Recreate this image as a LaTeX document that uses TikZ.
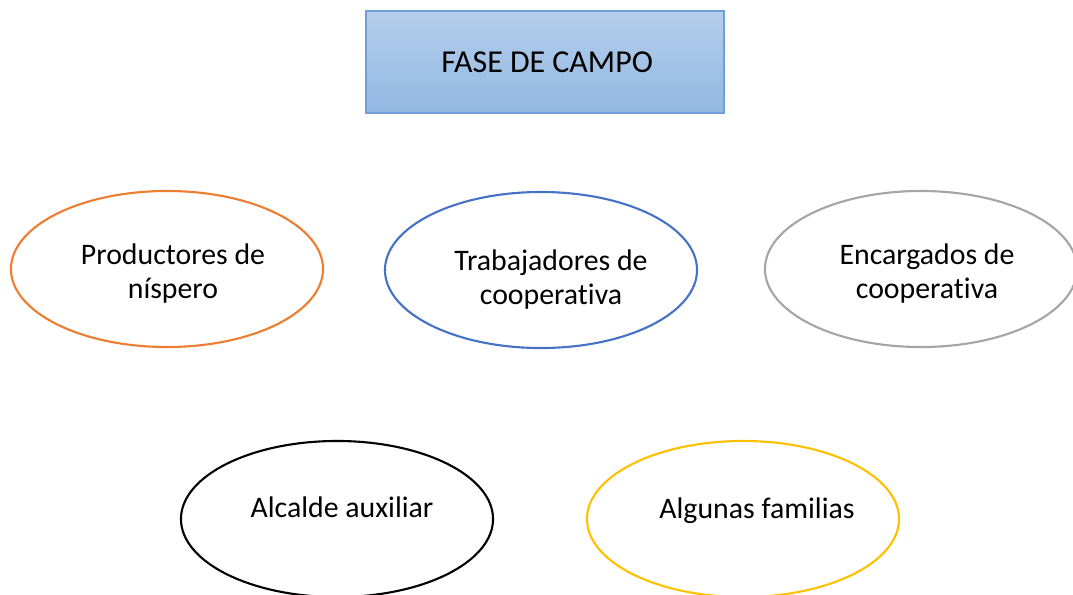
\documentclass[tikz,border=0pt]{standalone}
\usepackage{fontspec}
\setmainfont{Carlito}[Ligatures=NoCommon]
\usetikzlibrary{
    shapes.geometric,  % ellipse nodes
    positioning,  % relative placement
}
\definecolor{boxline}{RGB}{110,160,215}
\definecolor{boxtop}{RGB}{181,206,235}
\definecolor{boxbot}{RGB}{146,184,227}
\definecolor{ornge}{RGB}{237,125,49}
\definecolor{blu}{RGB}{68,114,196}
\definecolor{gry}{RGB}{165,165,165}
\definecolor{yllw}{RGB}{255,192,0}
\tikzset{
    titlebox/.style={draw=boxline, line width=1pt, top color=boxtop,
        bottom color=boxbot, minimum width=8.95cm, minimum height=2.55cm,
        inner sep=0pt, font=\fontsize{22.7}{26}\selectfont},
    actor/.style={ellipse, draw=#1, line width=1.5pt, minimum width=7.8cm,
        minimum height=3.9cm, inner sep=0pt},
    txt/.style={anchor=base, align=center, inner sep=0pt,
        font=\fontsize{21.2}{24}\selectfont},
}

\begin{document}
\begin{tikzpicture}[x=0.025cm, y=-0.025cm]
            \useasboundingbox (0, 0) rectangle (1073, 594);
            \clip (0, 0) rectangle (1073, 594);
    
            \node[titlebox] (fase) at (545, 62) {\hspace{3pt}FASE DE CAMPO};
    
            % ellipses
            \node[actor=ornge] (prod) at (167, 269) {};
            \node[actor=blu] (trab) at (541, 270) {};
            \node[actor=gry] (enca) at (921, 269) {};
            \node[actor=black] (alca) at (337, 519) {};
            \node[actor=yllw] (fami) at (743, 519) {};
    
            % texts inside them (base = last line)
            \node[txt] (prodtxt) at (173, 298) {Productores de\\ níspero};
            \node[txt] (trabtxt) at (551, 304) {Trabajadores de\\ cooperativa};
            \node[txt] (encatxt) at (927, 298) {Encargados de\\ cooperativa};
            \node[txt] (alcatxt) at (342, 517) {Alcalde auxiliar};
            \node[txt] (famitxt) at (757, 518) {Algunas familias};
        \end{tikzpicture}
\end{document}
